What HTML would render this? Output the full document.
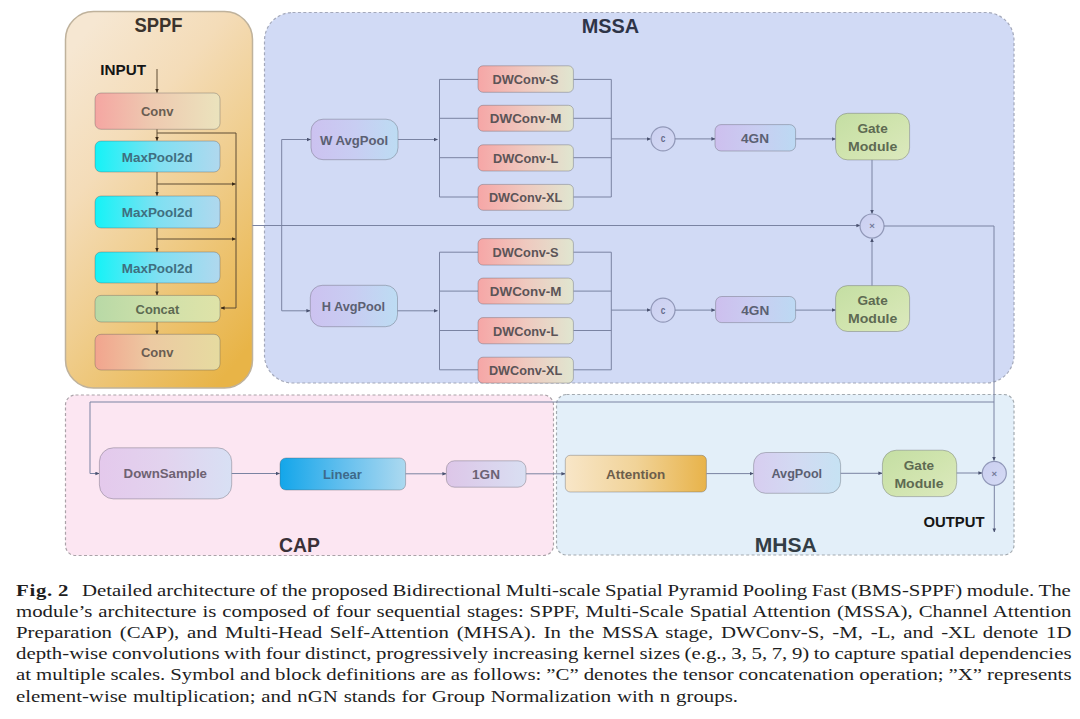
<!DOCTYPE html>
<html><head><meta charset="utf-8"><style>
html,body{margin:0;padding:0;background:#fff;}
body{width:1080px;height:719px;position:relative;overflow:hidden;}
.cl{position:absolute;left:16px;font-family:"Liberation Serif",serif;font-size:16.6px;line-height:16.6px;color:#1e1e1e;white-space:nowrap;transform-origin:0 0;transform:scaleX(1.255);}
</style></head><body>
<svg width="1080" height="560" viewBox="0 0 1080 560" style="position:absolute;left:0;top:0"><defs><linearGradient id="gSPPF" x1="0.2" y1="0" x2="0.8" y2="1"><stop offset="0" stop-color="#f6e7d2"/><stop offset="0.3" stop-color="#f4dcb8"/><stop offset="0.55" stop-color="#f0cf92"/><stop offset="0.8" stop-color="#ecc068"/><stop offset="1" stop-color="#e8b447"/></linearGradient><linearGradient id="gConv" x1="0" y1="0" x2="1" y2="0"><stop offset="0" stop-color="#f5a6a2"/><stop offset="0.45" stop-color="#eec9b0"/><stop offset="1" stop-color="#ebe3bd"/></linearGradient><linearGradient id="gConv2" x1="0" y1="0" x2="1" y2="0"><stop offset="0" stop-color="#f2a48e"/><stop offset="0.45" stop-color="#eccaa2"/><stop offset="1" stop-color="#e6dba0"/></linearGradient><linearGradient id="gMax" x1="0" y1="0" x2="1" y2="0"><stop offset="0" stop-color="#14f3f7"/><stop offset="0.5" stop-color="#7fe0f2"/><stop offset="1" stop-color="#b0d8ee"/></linearGradient><linearGradient id="gConcat" x1="0" y1="0" x2="1" y2="0"><stop offset="0" stop-color="#b8d9a6"/><stop offset="0.5" stop-color="#cfe0aa"/><stop offset="1" stop-color="#dfe3a8"/></linearGradient><linearGradient id="gAvg" x1="0" y1="0" x2="1" y2="0"><stop offset="0" stop-color="#ccc2f0"/><stop offset="0.5" stop-color="#c8cdf2"/><stop offset="1" stop-color="#bddcf3"/></linearGradient><linearGradient id="gDW" x1="0" y1="0" x2="1" y2="0"><stop offset="0" stop-color="#f6a6a6"/><stop offset="0.5" stop-color="#efc9bf"/><stop offset="1" stop-color="#e0e6d0"/></linearGradient><linearGradient id="g4GN" x1="0" y1="0" x2="1" y2="0"><stop offset="0" stop-color="#cdbfee"/><stop offset="0.5" stop-color="#c9cdf1"/><stop offset="1" stop-color="#bcd9f3"/></linearGradient><linearGradient id="gGate" x1="0" y1="0" x2="1" y2="1"><stop offset="0" stop-color="#c4dea3"/><stop offset="0.5" stop-color="#d0e4ae"/><stop offset="1" stop-color="#dce9be"/></linearGradient><linearGradient id="gDown" x1="0" y1="0" x2="1" y2="0"><stop offset="0" stop-color="#e4c9ec"/><stop offset="0.5" stop-color="#e2d3ee"/><stop offset="1" stop-color="#d8e0f4"/></linearGradient><linearGradient id="gLin" x1="0" y1="0" x2="1" y2="0"><stop offset="0" stop-color="#13a6ea"/><stop offset="0.5" stop-color="#63bfee"/><stop offset="1" stop-color="#acd9f0"/></linearGradient><linearGradient id="g1GN" x1="0" y1="0" x2="1" y2="0"><stop offset="0" stop-color="#ddc6e8"/><stop offset="1" stop-color="#d9dff2"/></linearGradient><linearGradient id="gAtt" x1="0" y1="0" x2="1" y2="0"><stop offset="0" stop-color="#f8e6c8"/><stop offset="0.5" stop-color="#f1d398"/><stop offset="1" stop-color="#e8b34a"/></linearGradient><linearGradient id="gAvg2" x1="0" y1="0" x2="1" y2="0"><stop offset="0" stop-color="#d7cdf0"/><stop offset="0.5" stop-color="#d2daf2"/><stop offset="1" stop-color="#c6e2f3"/></linearGradient><linearGradient id="gCirc" x1="0" y1="0" x2="1" y2="1"><stop offset="0" stop-color="#cbcff0"/><stop offset="1" stop-color="#d4daf4"/></linearGradient><marker id="ah" viewBox="0 0 10 10" refX="9" refY="5" markerWidth="4" markerHeight="4" orient="auto" markerUnits="userSpaceOnUse"><path d="M0,0.5 L10,5 L0,9.5 z" fill="#4a5270"/></marker><marker id="ahs" viewBox="0 0 10 10" refX="9" refY="5" markerWidth="4" markerHeight="4" orient="auto" markerUnits="userSpaceOnUse"><path d="M0,0.5 L10,5 L0,9.5 z" fill="#3a2a18"/></marker></defs><rect x="65.5" y="11.5" width="187.00" height="376.50" rx="28" fill="url(#gSPPF)" stroke="#bfb29c" stroke-width="1.5" /><rect x="264.5" y="12.5" width="749.50" height="370.50" rx="28" fill="#d1daf5" stroke="#a3a8ba" stroke-width="1.2" stroke-dasharray="3 2.4"/><rect x="65.5" y="395" width="488.00" height="160.50" rx="10" fill="#fce6f2" stroke="#aaa2a8" stroke-width="1.2" stroke-dasharray="3 2.4"/><rect x="556.5" y="394.5" width="457.50" height="160.50" rx="10" fill="#e3eff9" stroke="#a3aab0" stroke-width="1.2" stroke-dasharray="3 2.4"/><text x="134.4" y="31.5" font-family="Liberation Sans" font-weight="bold" font-size="20" fill="#3b332c" textLength="48.10" lengthAdjust="spacingAndGlyphs">SPPF</text><text x="581.7" y="33" font-family="Liberation Sans" font-weight="bold" font-size="20" fill="#2e3447" textLength="57.40" lengthAdjust="spacingAndGlyphs">MSSA</text><text x="279.0" y="552" font-family="Liberation Sans" font-weight="bold" font-size="20" fill="#3a3038" textLength="40.90" lengthAdjust="spacingAndGlyphs">CAP</text><text x="754.8" y="551.8" font-family="Liberation Sans" font-weight="bold" font-size="20" fill="#333d45" textLength="62.00" lengthAdjust="spacingAndGlyphs">MHSA</text><text x="100.2" y="74.5" font-family="Liberation Sans" font-weight="bold" font-size="14.3" fill="#151515" textLength="45.80" lengthAdjust="spacingAndGlyphs">INPUT</text><text x="923.4" y="527" font-family="Liberation Sans" font-weight="bold" font-size="14.3" fill="#151515" textLength="61.10" lengthAdjust="spacingAndGlyphs">OUTPUT</text><path d="M157,69 V92.5" fill="none" stroke="#5e4c34" stroke-width="1" marker-end="url(#ahs)"/><rect x="95" y="93" width="125.00" height="36.30" rx="6" fill="url(#gConv)" stroke="rgba(80,80,90,0.35)" stroke-width="1" /><text x="157.2" y="115.8" text-anchor="middle" font-family="Liberation Sans" font-weight="bold" font-size="12.5" fill="#6a5d52" textLength="32.50" lengthAdjust="spacingAndGlyphs">Conv</text><path d="M157,129.3 V140.5" fill="none" stroke="#5e4c34" stroke-width="1" marker-end="url(#ahs)"/><path d="M157,133 H236 V308 H221" fill="none" stroke="#5e4c34" stroke-width="1" marker-end="url(#ahs)"/><rect x="95" y="141" width="125.00" height="31.00" rx="6" fill="url(#gMax)" stroke="rgba(80,80,90,0.35)" stroke-width="1" /><text x="157.2" y="161.5" text-anchor="middle" font-family="Liberation Sans" font-weight="bold" font-size="12.5" fill="#3f6f80" textLength="70.80" lengthAdjust="spacingAndGlyphs">MaxPool2d</text><rect x="95" y="196" width="125.00" height="32.00" rx="6" fill="url(#gMax)" stroke="rgba(80,80,90,0.35)" stroke-width="1" /><text x="157.2" y="217.0" text-anchor="middle" font-family="Liberation Sans" font-weight="bold" font-size="12.5" fill="#3f6f80" textLength="70.80" lengthAdjust="spacingAndGlyphs">MaxPool2d</text><rect x="95" y="252" width="125.00" height="31.00" rx="6" fill="url(#gMax)" stroke="rgba(80,80,90,0.35)" stroke-width="1" /><text x="157.2" y="272.5" text-anchor="middle" font-family="Liberation Sans" font-weight="bold" font-size="12.5" fill="#3f6f80" textLength="70.80" lengthAdjust="spacingAndGlyphs">MaxPool2d</text><path d="M157,172 V195.5" fill="none" stroke="#5e4c34" stroke-width="1" marker-end="url(#ahs)"/><path d="M157,184 H235.5" fill="none" stroke="#5e4c34" stroke-width="1" marker-end="url(#ahs)"/><path d="M157,228 V251.5" fill="none" stroke="#5e4c34" stroke-width="1" marker-end="url(#ahs)"/><path d="M157,239 H235.5" fill="none" stroke="#5e4c34" stroke-width="1" marker-end="url(#ahs)"/><path d="M157,283 V295" fill="none" stroke="#5e4c34" stroke-width="1" marker-end="url(#ahs)"/><rect x="95" y="295.4" width="125.00" height="26.60" rx="6" fill="url(#gConcat)" stroke="rgba(80,80,90,0.35)" stroke-width="1" /><text x="157.4" y="313.8" text-anchor="middle" font-family="Liberation Sans" font-weight="bold" font-size="12.5" fill="#5d6a52" textLength="43.60" lengthAdjust="spacingAndGlyphs">Concat</text><path d="M157,322 V334" fill="none" stroke="#5e4c34" stroke-width="1" marker-end="url(#ahs)"/><rect x="95" y="334.3" width="125.00" height="35.70" rx="6" fill="url(#gConv2)" stroke="rgba(80,80,90,0.35)" stroke-width="1" /><text x="157.2" y="356.7" text-anchor="middle" font-family="Liberation Sans" font-weight="bold" font-size="12.5" fill="#6a5d52" textLength="32.50" lengthAdjust="spacingAndGlyphs">Conv</text><path d="M252.5,225.5 H860" fill="none" stroke="#7a83a2" stroke-width="1" marker-end="url(#ah)"/><path d="M281.7,225.5 V139.5 H310.5" fill="none" stroke="#7a83a2" stroke-width="1" marker-end="url(#ah)"/><path d="M281.7,225.5 V310.8 H310" fill="none" stroke="#7a83a2" stroke-width="1" marker-end="url(#ah)"/><rect x="311" y="119.2" width="87.00" height="40.50" rx="12" fill="url(#gAvg)" stroke="rgba(80,80,90,0.35)" stroke-width="1" /><text x="354.1" y="144.54999999999998" text-anchor="middle" font-family="Liberation Sans" font-weight="bold" font-size="13" fill="#5b6072" textLength="68.20" lengthAdjust="spacingAndGlyphs">W AvgPool</text><path d="M398,139.5 H437.5" fill="none" stroke="#7a83a2" stroke-width="1" marker-end="url(#ah)"/><path d="M439.5,79.4 V197" fill="none" stroke="#7a83a2" stroke-width="1"/><path d="M611.3,79.4 V197" fill="none" stroke="#7a83a2" stroke-width="1"/><path d="M439.5,79.4 H478" fill="none" stroke="#7a83a2" stroke-width="1"/><path d="M573.4,79.4 H611.3" fill="none" stroke="#7a83a2" stroke-width="1"/><rect x="478" y="65.8" width="95.40" height="26.50" rx="5" fill="url(#gDW)" stroke="rgba(80,80,90,0.35)" stroke-width="1" /><text x="525.6" y="83.95" text-anchor="middle" font-family="Liberation Sans" font-weight="bold" font-size="12.5" fill="#5c5457" textLength="66.10" lengthAdjust="spacingAndGlyphs">DWConv-S</text><path d="M439.5,118.3 H478" fill="none" stroke="#7a83a2" stroke-width="1"/><path d="M573.4,118.3 H611.3" fill="none" stroke="#7a83a2" stroke-width="1"/><rect x="478" y="105.3" width="95.40" height="25.90" rx="5" fill="url(#gDW)" stroke="rgba(80,80,90,0.35)" stroke-width="1" /><text x="525.6" y="123.15" text-anchor="middle" font-family="Liberation Sans" font-weight="bold" font-size="12.5" fill="#5c5457" textLength="71.50" lengthAdjust="spacingAndGlyphs">DWConv-M</text><path d="M439.5,157.7 H478" fill="none" stroke="#7a83a2" stroke-width="1"/><path d="M573.4,157.7 H611.3" fill="none" stroke="#7a83a2" stroke-width="1"/><rect x="478" y="144.8" width="95.40" height="26.20" rx="5" fill="url(#gDW)" stroke="rgba(80,80,90,0.35)" stroke-width="1" /><text x="525.6" y="162.8" text-anchor="middle" font-family="Liberation Sans" font-weight="bold" font-size="12.5" fill="#5c5457" textLength="65.30" lengthAdjust="spacingAndGlyphs">DWConv-L</text><path d="M439.5,197 H478" fill="none" stroke="#7a83a2" stroke-width="1"/><path d="M573.4,197 H611.3" fill="none" stroke="#7a83a2" stroke-width="1"/><rect x="478" y="184.4" width="95.40" height="25.90" rx="5" fill="url(#gDW)" stroke="rgba(80,80,90,0.35)" stroke-width="1" /><text x="525.6" y="202.25000000000003" text-anchor="middle" font-family="Liberation Sans" font-weight="bold" font-size="12.5" fill="#5c5457" textLength="73.30" lengthAdjust="spacingAndGlyphs">DWConv-XL</text><path d="M611.3,138.9 H650.5" fill="none" stroke="#7a83a2" stroke-width="1" marker-end="url(#ah)"/><circle cx="663" cy="138.9" r="12" fill="url(#gCirc)" stroke="#9198b8" stroke-width="1.2"/><text x="663" y="142.3" text-anchor="middle" font-family="Liberation Sans" font-weight="bold" font-size="11" fill="#656b8a" textLength="4.6" lengthAdjust="spacingAndGlyphs">c</text><path d="M675,138.9 H715" fill="none" stroke="#7a83a2" stroke-width="1" marker-end="url(#ah)"/><rect x="715" y="124.6" width="80.60" height="26.40" rx="6" fill="url(#g4GN)" stroke="rgba(80,80,90,0.35)" stroke-width="1" /><text x="755.0" y="143.10000000000002" text-anchor="middle" font-family="Liberation Sans" font-weight="bold" font-size="13" fill="#5b6072" textLength="28.00" lengthAdjust="spacingAndGlyphs">4GN</text><path d="M795.6,138.9 H835.5" fill="none" stroke="#7a83a2" stroke-width="1" marker-end="url(#ah)"/><rect x="835.6" y="113.3" width="74.00" height="46.60" rx="12" fill="url(#gGate)" stroke="rgba(80,80,90,0.35)" stroke-width="1" /><text x="872.6" y="132.6" text-anchor="middle" font-family="Liberation Sans" font-weight="bold" font-size="13" fill="#5e6a52" textLength="30.20" lengthAdjust="spacingAndGlyphs">Gate</text><text x="872.6" y="151.1" text-anchor="middle" font-family="Liberation Sans" font-weight="bold" font-size="13" fill="#5e6a52" textLength="49.20" lengthAdjust="spacingAndGlyphs">Module</text><rect x="310.3" y="285.3" width="87.20" height="41.40" rx="12" fill="url(#gAvg)" stroke="rgba(80,80,90,0.35)" stroke-width="1" /><text x="353.5" y="311.1" text-anchor="middle" font-family="Liberation Sans" font-weight="bold" font-size="13" fill="#5b6072" textLength="63.30" lengthAdjust="spacingAndGlyphs">H AvgPool</text><path d="M397.5,310.8 H437.5" fill="none" stroke="#7a83a2" stroke-width="1" marker-end="url(#ah)"/><path d="M439.5,252.20000000000002 V369.8" fill="none" stroke="#7a83a2" stroke-width="1"/><path d="M611.3,252.20000000000002 V369.8" fill="none" stroke="#7a83a2" stroke-width="1"/><path d="M439.5,252.20000000000002 H478" fill="none" stroke="#7a83a2" stroke-width="1"/><path d="M573.4,252.20000000000002 H611.3" fill="none" stroke="#7a83a2" stroke-width="1"/><rect x="478" y="238.60000000000002" width="95.40" height="26.50" rx="5" fill="url(#gDW)" stroke="rgba(80,80,90,0.35)" stroke-width="1" /><text x="525.6" y="256.75" text-anchor="middle" font-family="Liberation Sans" font-weight="bold" font-size="12.5" fill="#5c5457" textLength="66.10" lengthAdjust="spacingAndGlyphs">DWConv-S</text><path d="M439.5,291.1 H478" fill="none" stroke="#7a83a2" stroke-width="1"/><path d="M573.4,291.1 H611.3" fill="none" stroke="#7a83a2" stroke-width="1"/><rect x="478" y="278.1" width="95.40" height="25.90" rx="5" fill="url(#gDW)" stroke="rgba(80,80,90,0.35)" stroke-width="1" /><text x="525.6" y="295.95" text-anchor="middle" font-family="Liberation Sans" font-weight="bold" font-size="12.5" fill="#5c5457" textLength="71.50" lengthAdjust="spacingAndGlyphs">DWConv-M</text><path d="M439.5,330.5 H478" fill="none" stroke="#7a83a2" stroke-width="1"/><path d="M573.4,330.5 H611.3" fill="none" stroke="#7a83a2" stroke-width="1"/><rect x="478" y="317.6" width="95.40" height="26.20" rx="5" fill="url(#gDW)" stroke="rgba(80,80,90,0.35)" stroke-width="1" /><text x="525.6" y="335.6" text-anchor="middle" font-family="Liberation Sans" font-weight="bold" font-size="12.5" fill="#5c5457" textLength="65.30" lengthAdjust="spacingAndGlyphs">DWConv-L</text><path d="M439.5,369.8 H478" fill="none" stroke="#7a83a2" stroke-width="1"/><path d="M573.4,369.8 H611.3" fill="none" stroke="#7a83a2" stroke-width="1"/><rect x="478" y="357.20000000000005" width="95.40" height="25.90" rx="5" fill="url(#gDW)" stroke="rgba(80,80,90,0.35)" stroke-width="1" /><text x="525.6" y="375.05" text-anchor="middle" font-family="Liberation Sans" font-weight="bold" font-size="12.5" fill="#5c5457" textLength="73.30" lengthAdjust="spacingAndGlyphs">DWConv-XL</text><path d="M611.3,310.1 H650.5" fill="none" stroke="#7a83a2" stroke-width="1" marker-end="url(#ah)"/><circle cx="663" cy="310.1" r="12" fill="url(#gCirc)" stroke="#9198b8" stroke-width="1.2"/><text x="663" y="313.5" text-anchor="middle" font-family="Liberation Sans" font-weight="bold" font-size="11" fill="#656b8a" textLength="4.6" lengthAdjust="spacingAndGlyphs">c</text><path d="M675,310.1 H715" fill="none" stroke="#7a83a2" stroke-width="1" marker-end="url(#ah)"/><rect x="715.6" y="296.5" width="80.00" height="26.10" rx="6" fill="url(#g4GN)" stroke="rgba(80,80,90,0.35)" stroke-width="1" /><text x="755.3000000000001" y="314.85" text-anchor="middle" font-family="Liberation Sans" font-weight="bold" font-size="13" fill="#5b6072" textLength="28.00" lengthAdjust="spacingAndGlyphs">4GN</text><path d="M795.6,310.1 H835.5" fill="none" stroke="#7a83a2" stroke-width="1" marker-end="url(#ah)"/><rect x="835.6" y="285.6" width="74.00" height="45.90" rx="12" fill="url(#gGate)" stroke="rgba(80,80,90,0.35)" stroke-width="1" /><text x="872.6" y="304.55" text-anchor="middle" font-family="Liberation Sans" font-weight="bold" font-size="13" fill="#5e6a52" textLength="30.20" lengthAdjust="spacingAndGlyphs">Gate</text><text x="872.6" y="323.05" text-anchor="middle" font-family="Liberation Sans" font-weight="bold" font-size="13" fill="#5e6a52" textLength="49.20" lengthAdjust="spacingAndGlyphs">Module</text><path d="M872,159.9 V213.5" fill="none" stroke="#7a83a2" stroke-width="1" marker-end="url(#ah)"/><path d="M872,285.6 V238.5" fill="none" stroke="#7a83a2" stroke-width="1" marker-end="url(#ah)"/><circle cx="872" cy="226" r="12" fill="url(#gCirc)" stroke="#9198b8" stroke-width="1.2"/><text x="872" y="229.3" text-anchor="middle" font-family="Liberation Sans" font-weight="bold" font-size="9.5" fill="#747a9a">×</text><path d="M884,226 H994 V460.5" fill="none" stroke="#7a83a2" stroke-width="1" marker-end="url(#ah)"/><path d="M994,402 H90 V473.5 H99" fill="none" stroke="#7a83a2" stroke-width="1" marker-end="url(#ah)"/><rect x="99.4" y="447.8" width="132.30" height="51.10" rx="14" fill="url(#gDown)" stroke="rgba(80,80,90,0.35)" stroke-width="1" /><text x="165.3" y="478.4" text-anchor="middle" font-family="Liberation Sans" font-weight="bold" font-size="13" fill="#6e6272" textLength="83.40" lengthAdjust="spacingAndGlyphs">DownSample</text><path d="M231.7,473.5 H279.5" fill="none" stroke="#7a83a2" stroke-width="1" marker-end="url(#ah)"/><rect x="280" y="458" width="125.60" height="32.00" rx="6" fill="url(#gLin)" stroke="rgba(80,80,90,0.35)" stroke-width="1" /><text x="342.4" y="478.9" text-anchor="middle" font-family="Liberation Sans" font-weight="bold" font-size="13" fill="#3e6a8a" textLength="39.00" lengthAdjust="spacingAndGlyphs">Linear</text><path d="M405.6,473.8 H446" fill="none" stroke="#7a83a2" stroke-width="1" marker-end="url(#ah)"/><rect x="446.4" y="460.8" width="79.60" height="26.40" rx="8" fill="url(#g1GN)" stroke="rgba(80,80,90,0.35)" stroke-width="1" /><text x="486" y="478.9" text-anchor="middle" font-family="Liberation Sans" font-weight="bold" font-size="13" fill="#6b6274" textLength="27.90" lengthAdjust="spacingAndGlyphs">1GN</text><path d="M526,473.8 H565" fill="none" stroke="#7a83a2" stroke-width="1" marker-end="url(#ah)"/><rect x="565.3" y="455.3" width="141.10" height="36.70" rx="5" fill="url(#gAtt)" stroke="rgba(80,80,90,0.35)" stroke-width="1" /><text x="635.65" y="478.8" text-anchor="middle" font-family="Liberation Sans" font-weight="bold" font-size="13" fill="#6d5e4b" textLength="59.10" lengthAdjust="spacingAndGlyphs">Attention</text><path d="M706.4,473.6 H753.2" fill="none" stroke="#7a83a2" stroke-width="1" marker-end="url(#ah)"/><rect x="753.6" y="452.5" width="87.00" height="40.80" rx="12" fill="url(#gAvg2)" stroke="rgba(80,80,90,0.35)" stroke-width="1" /><text x="796.8" y="478.3" text-anchor="middle" font-family="Liberation Sans" font-weight="bold" font-size="13" fill="#5b6072" textLength="50.60" lengthAdjust="spacingAndGlyphs">AvgPool</text><path d="M840.6,473.3 H882" fill="none" stroke="#7a83a2" stroke-width="1" marker-end="url(#ah)"/><rect x="882.4" y="450.2" width="74.30" height="46.40" rx="14" fill="url(#gGate)" stroke="rgba(80,80,90,0.35)" stroke-width="1" /><text x="918.9" y="469.6" text-anchor="middle" font-family="Liberation Sans" font-weight="bold" font-size="13" fill="#5e6a52" textLength="30.20" lengthAdjust="spacingAndGlyphs">Gate</text><text x="919" y="487.9" text-anchor="middle" font-family="Liberation Sans" font-weight="bold" font-size="13" fill="#5e6a52" textLength="49.20" lengthAdjust="spacingAndGlyphs">Module</text><path d="M956.7,473 H982" fill="none" stroke="#7a83a2" stroke-width="1" marker-end="url(#ah)"/><circle cx="994.3" cy="473.3" r="12" fill="url(#gCirc)" stroke="#9198b8" stroke-width="1.2"/><text x="994.3" y="476.6" text-anchor="middle" font-family="Liberation Sans" font-weight="bold" font-size="9.5" fill="#747a9a">×</text><path d="M994.3,485.3 V532" fill="none" stroke="#7a83a2" stroke-width="1" marker-end="url(#ah)"/></svg>
<div class="cl" style="top:582.60px;word-spacing:-0.557px"><b style="letter-spacing:.55px;margin-right:10.2px">Fig. 2</b>Detailed architecture of the proposed Bidirectional Multi-scale Spatial Pyramid Pooling Fast (BMS-SPPF) module. The</div><div class="cl" style="top:603.80px;word-spacing:0.583px">module’s architecture is composed of four sequential stages: SPPF, Multi-Scale Spatial Attention (MSSA), Channel Attention</div><div class="cl" style="top:624.90px;word-spacing:2.023px">Preparation (CAP), and Multi-Head Self-Attention (MHSA). In the MSSA stage, DWConv-S, -M, -L, and -XL denote 1D</div><div class="cl" style="top:646.20px;word-spacing:-0.513px">depth-wise convolutions with four distinct, progressively increasing kernel sizes (e.g., 3, 5, 7, 9) to capture spatial dependencies</div><div class="cl" style="top:667.40px;word-spacing:-0.186px">at multiple scales. Symbol and block definitions are as follows: ”C” denotes the tensor concatenation operation; ”X” represents</div><div class="cl" style="top:688.70px;word-spacing:0.522px">element-wise multiplication; and nGN stands for Group Normalization with n groups.</div>
</body></html>
